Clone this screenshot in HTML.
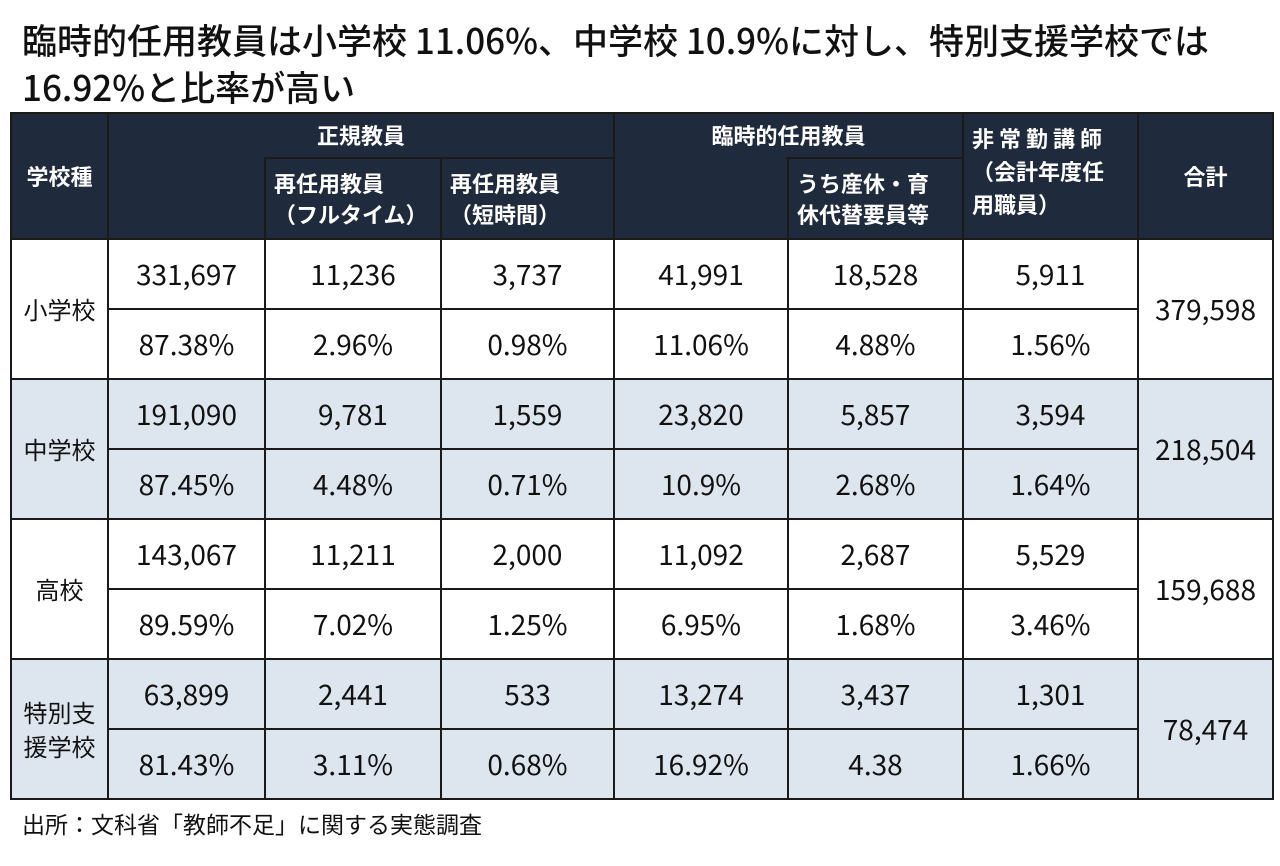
<!DOCTYPE html>
<html><head><meta charset="utf-8"><style>
body{margin:0;width:1280px;height:866px;background:#fff;font-family:"Liberation Sans","Noto Sans CJK JP",sans-serif;color:#111;position:relative;overflow:hidden}
#title{position:absolute;left:22px;top:16px;font-size:35px;line-height:47px;font-family:"Noto Sans CJK JP","Liberation Sans",sans-serif;white-space:nowrap;font-weight:500}
table{position:absolute;left:10px;top:112px;border-collapse:collapse;table-layout:fixed}
td,th{border:2px solid #1a1a1a;text-align:center;padding:0}
th{background:#1f2a3c;color:#fff;font-weight:bold;font-size:22px;line-height:31px;font-family:"Noto Sans CJK JP",sans-serif;white-space:nowrap}
td{font-size:28px;height:68px;font-family:"Noto Sans CJK JP","Liberation Sans",sans-serif}
td.s{font-size:24px;line-height:34px}
tr.b td{background:#dde6ef}
.cover{position:absolute;background:#1f2a3c;height:5px;top:154px}
#src{position:absolute;left:22px;top:806px;font-size:23px;font-family:"Noto Sans CJK JP",sans-serif}
</style></head><body>
<div id="title">臨時的任用教員は小学校 11.06%、中学校 10.9%に対し、特別支援学校では<br>16.92%と比率が高い</div>
<table>
<colgroup><col style="width:97px"><col style="width:157px"><col style="width:176px"><col style="width:173px"><col style="width:174px"><col style="width:175px"><col style="width:175px"><col style="width:135px"></colgroup>
<tr style="height:45px">
<th rowspan="2">学校種</th>
<th colspan="3">正規教員</th>
<th colspan="2">臨時的任用教員</th>
<th rowspan="2" style="text-align:left;padding-left:8px;vertical-align:top;padding-top:8px;line-height:33px">非 常 勤 講 師<br>（会計年度任<br>用職員）</th>
<th rowspan="2">合計</th>
</tr>
<tr style="height:81px">
<th></th>
<th style="text-align:left;padding-left:8px">再任用教員<br>（フルタイム）</th>
<th style="text-align:left;padding-left:8px">再任用教員<br>（短時間）</th>
<th></th>
<th style="text-align:left;padding-left:8px">うち産休・育<br>休代替要員等</th>
</tr>
<tr><td rowspan="2" class="s">小学校</td><td>331,697</td><td>11,236</td><td>3,737</td><td>41,991</td><td>18,528</td><td>5,911</td><td rowspan="2">379,598</td></tr>
<tr><td>87.38%</td><td>2.96%</td><td>0.98%</td><td>11.06%</td><td>4.88%</td><td>1.56%</td></tr>
<tr class="b"><td rowspan="2" class="s">中学校</td><td>191,090</td><td>9,781</td><td>1,559</td><td>23,820</td><td>5,857</td><td>3,594</td><td rowspan="2">218,504</td></tr>
<tr class="b"><td>87.45%</td><td>4.48%</td><td>0.71%</td><td>10.9%</td><td>2.68%</td><td>1.64%</td></tr>
<tr><td rowspan="2" class="s">高校</td><td>143,067</td><td>11,211</td><td>2,000</td><td>11,092</td><td>2,687</td><td>5,529</td><td rowspan="2">159,688</td></tr>
<tr><td>89.59%</td><td>7.02%</td><td>1.25%</td><td>6.95%</td><td>1.68%</td><td>3.46%</td></tr>
<tr class="b"><td rowspan="2" class="s">特別支<br>援学校</td><td>63,899</td><td>2,441</td><td>533</td><td>13,274</td><td>3,437</td><td>1,301</td><td rowspan="2">78,474</td></tr>
<tr class="b"><td>81.43%</td><td>3.11%</td><td>0.68%</td><td>16.92%</td><td>4.38</td><td>1.66%</td></tr>
</table>
<div class="cover" style="left:109px;width:155px"></div>
<div class="cover" style="left:615px;width:171px"></div>
<div id="src">出所：文科省「教師不足」に関する実態調査</div>
</body></html>
